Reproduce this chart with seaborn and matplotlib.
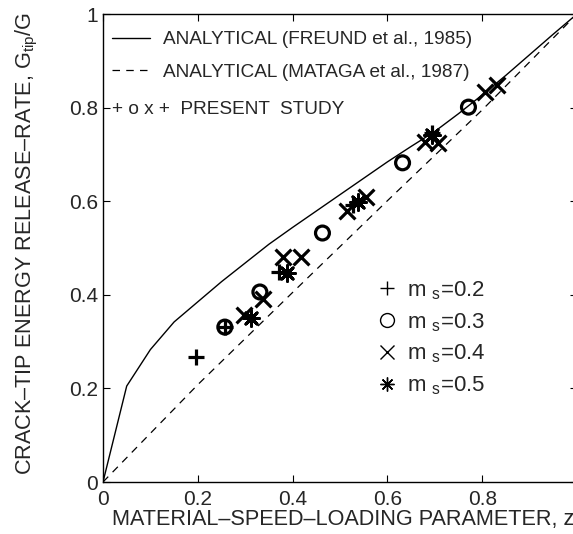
import numpy as np
import pandas as pd
import matplotlib
matplotlib.use("Agg")
import matplotlib.pyplot as plt
from matplotlib.lines import Line2D
import seaborn as sns

# ---- data ----
freund_z = [0, 0.05, 0.1, 0.15, 0.2, 0.25, 0.3, 0.35, 0.4, 0.45, 0.5, 0.55, 0.6,
            0.65, 0.7, 0.75, 0.8, 0.85, 0.9, 0.95, 1.0]
freund_g = [0, 0.205, 0.283, 0.342, 0.385, 0.428, 0.468, 0.508, 0.544, 0.579, 0.614,
            0.649, 0.684, 0.717, 0.749, 0.787, 0.827, 0.869, 0.913, 0.957, 1.0]
mataga_z = [0, 0.2, 0.4, 0.6, 0.8, 1.0]
mataga_g = [0, 0.208, 0.405, 0.601, 0.795, 1.0]

ms02_z = [0.196, 0.257, 0.371, 0.528, 0.695]
ms02_g = [0.267, 0.331, 0.449, 0.592, 0.745]
ms03_z = [0.257, 0.331, 0.463, 0.632, 0.771]
ms03_g = [0.331, 0.406, 0.532, 0.682, 0.801]
ms04_z = [0.297, 0.337, 0.379, 0.417, 0.515, 0.554, 0.680, 0.707, 0.806, 0.832]
ms04_g = [0.357, 0.391, 0.481, 0.481, 0.578, 0.609, 0.727, 0.724, 0.833, 0.848]
ms05_z = [0.312, 0.389, 0.537, 0.695]
ms05_g = [0.350, 0.447, 0.598, 0.741]

ms_labels = ["0.2", "0.3", "0.4", "0.5"]
xtick_vals = [0, 0.2, 0.4, 0.6, 0.8, 1.0]
xtick_labels = ["0", "0.2", "0.4", "0.6", "0.8", "1"]
ytick_vals = [0, 0.2, 0.4, 0.6, 0.8, 1.0]
ytick_labels = ["0", "0.2", "0.4", "0.6", "0.8", "1"]

# ---- style ----
sns.set_style("ticks")
plt.rcParams["font.family"] = ["Liberation Sans", "DejaVu Sans"]
plt.rcParams["mathtext.fontset"] = "custom"
plt.rcParams["mathtext.rm"] = "Liberation Sans"
plt.rcParams["mathtext.it"] = "Liberation Sans:italic"
plt.rcParams["mathtext.default"] = "regular"
plt.rcParams["xtick.direction"] = "in"
plt.rcParams["ytick.direction"] = "in"

W, H = 573, 534
fig = plt.figure(figsize=(W / 100, H / 100), dpi=100)
ax = fig.add_axes([103 / W, 52 / H, 474 / W, 468 / H])

df_f = pd.DataFrame({"z": freund_z, "g": freund_g})
df_m = pd.DataFrame({"z": mataga_z, "g": mataga_g})
sns.lineplot(data=df_f, x="z", y="g", color="k", lw=1.0, ax=ax,
             estimator=None, sort=False)
sns.lineplot(data=df_m, x="z", y="g", color="k", lw=0.9, ax=ax,
             estimator=None, sort=False, dashes=False, linestyle=(0, (6, 5)))

ast = (8, 2, 0)
sns.scatterplot(x=ms02_z, y=ms02_g, marker="+", s=120, color="k", linewidth=2.3, ax=ax, zorder=3)
sns.scatterplot(x=ms03_z, y=ms03_g, marker="o", s=100, color="k", facecolor="none",
                edgecolor="k", linewidth=2.3, ax=ax, zorder=3)
sns.scatterplot(x=ms04_z, y=ms04_g, marker="x", s=130, color="k", linewidth=2.3, ax=ax, zorder=3)
sns.scatterplot(x=ms05_z, y=ms05_g, marker=ast, s=130, color="k", linewidth=2.1, ax=ax, zorder=3)

ax.set_xlim(0, 1)
ax.set_ylim(0, 1)
ax.set_xticks(xtick_vals)
ax.set_xticklabels(xtick_labels)
ax.set_yticks(ytick_vals)
ax.set_yticklabels(ytick_labels)
ax.tick_params(axis="both", which="both", top=True, right=True, length=5, width=0.8,
               labelsize=15, color="k")
ax.tick_params(axis="x", pad=6)
ax.tick_params(axis="y", pad=3.5)
for sp in ax.spines.values():
    sp.set_linewidth(1.0)
    sp.set_color("k")

ax.set_xlabel("MATERIAL\u2013SPEED\u2013LOADING PARAMETER, z", fontsize=15.6, labelpad=2)
ax.xaxis.set_label_coords(0.507, -(509 - 482) / 468)
ax.xaxis.label.set_verticalalignment("top")
ax.set_ylabel("CRACK\u2013TIP ENERGY RELEASE\u2013RATE, G$_{tip}$/G", fontsize=15.6)
ax.yaxis.set_label_coords(-(103 - 40) / 474, 0.51)

# ---- top-left legend ----
h1 = Line2D([], [], color="k", lw=1.0)
h2 = Line2D([], [], color="k", lw=0.9, linestyle=(0, (6, 5)))
leg1 = ax.legend([h1, h2],
                 ["ANALYTICAL (FREUND et al., 1985)", "ANALYTICAL (MATAGA et al., 1987)"],
                 loc="upper left", bbox_to_anchor=((112 - 103) / 474, (482 - 31) / 468),
                 frameon=False, fontsize=13.7, handlelength=2.0, handletextpad=0.7,
                 borderpad=0, borderaxespad=0, labelspacing=0.8)
ax.add_artist(leg1)
ax.text((112 - 103) / 474, (482 - 109) / 468, "+ o x +  PRESENT  STUDY",
        transform=ax.transAxes, fontsize=13.7, ha="left", va="center")

# ---- m_s legend ----
mk = ["+", "o", "x", ast]
handles = [Line2D([], [], color="k", marker=m, linestyle="none", markersize=10,
                  markerfacecolor="none", markeredgewidth=1.0) for m in mk]
labels = [r"m $_{s}$=" + v for v in ms_labels]
ax.legend(handles, labels, loc="upper left",
          bbox_to_anchor=((378 - 103) / 474, (482 - 279) / 468),
          frameon=False, fontsize=16, handlelength=0.8, handletextpad=0.5,
          borderpad=0, borderaxespad=0, labelspacing=0.42)

fig.savefig("out.png", dpi=100)
